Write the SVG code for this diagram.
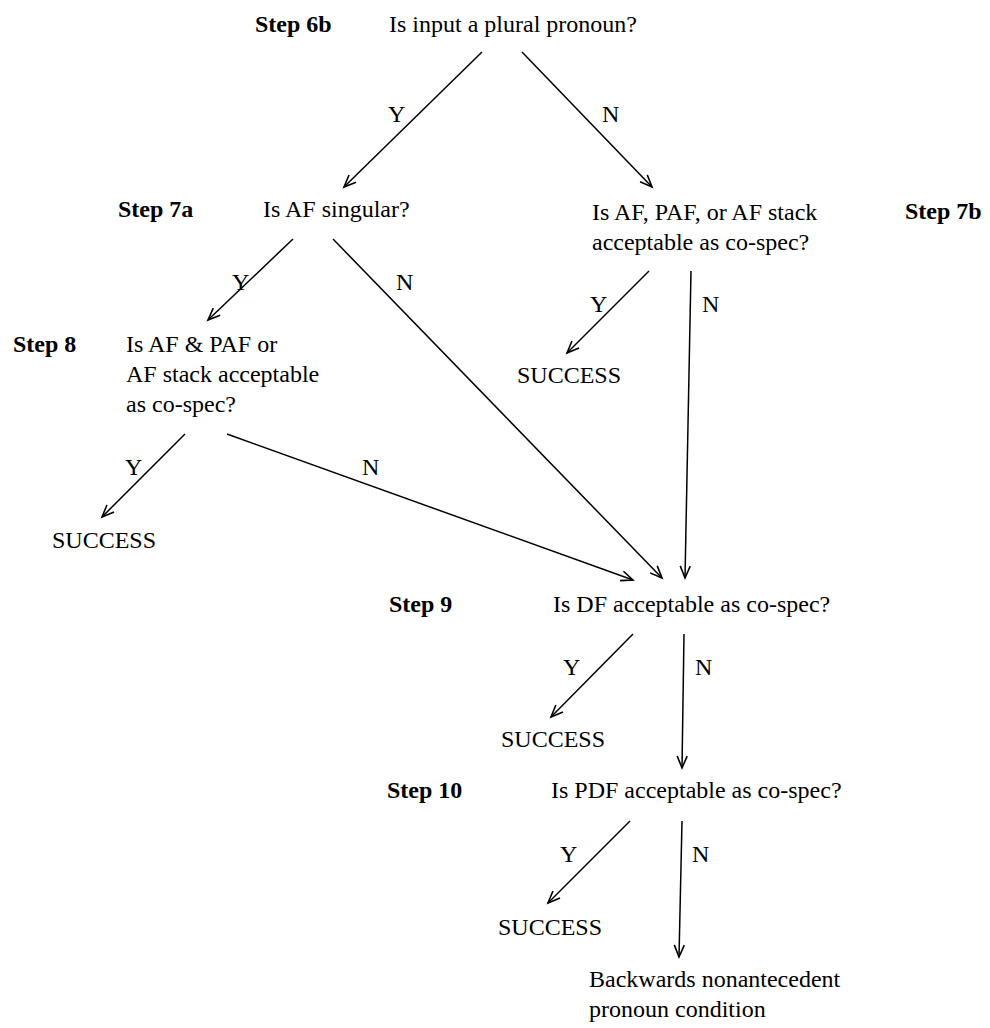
<svg xmlns="http://www.w3.org/2000/svg" width="990" height="1028" viewBox="0 0 990 1028">
<style>
  text { font-family: "Liberation Serif", "Times New Roman", serif; font-size: 24px; fill: #000; }
  .step { font-weight: bold; }
  .conn line { stroke: #000; stroke-width: 1.5; fill: none; marker-end: url(#arr); }
</style>
<defs>
  <marker id="arr" markerUnits="userSpaceOnUse" markerWidth="16" markerHeight="14" refX="13" refY="6" orient="auto">
    <path d="M1,1 L13,6 L1,11" fill="none" stroke="#000" stroke-width="1.6"/>
  </marker>
</defs>
<rect width="990" height="1028" fill="#fff"/>

<g id="step6b">
  <text class="step" x="255" y="32">Step 6b</text>
  <text x="389" y="32">Is input a plural pronoun?</text>
</g>
<g id="step7a">
  <text class="step" x="118" y="217">Step 7a</text>
  <text x="263" y="217">Is AF singular?</text>
</g>
<g id="step7b">
  <text class="step" x="905" y="219">Step 7b</text>
  <text x="592" y="220">Is AF, PAF, or AF stack</text>
  <text x="592" y="250">acceptable as co-spec?</text>
</g>
<g id="success7b"><text x="517" y="383">SUCCESS</text></g>
<g id="step8">
  <text class="step" x="13" y="352">Step 8</text>
  <text x="126" y="352">Is AF &amp; PAF or</text>
  <text x="126" y="382">AF stack acceptable</text>
  <text x="126" y="412">as co-spec?</text>
</g>
<g id="success8"><text x="52" y="548">SUCCESS</text></g>
<g id="step9">
  <text class="step" x="389" y="612">Step 9</text>
  <text x="553" y="612">Is DF acceptable as co-spec?</text>
</g>
<g id="success9"><text x="501" y="747">SUCCESS</text></g>
<g id="step10">
  <text class="step" x="387" y="798">Step 10</text>
  <text x="551" y="798">Is PDF acceptable as co-spec?</text>
</g>
<g id="success10"><text x="498" y="935">SUCCESS</text></g>
<g id="backwards">
  <text x="589" y="987">Backwards nonantecedent</text>
  <text x="589" y="1017">pronoun condition</text>
</g>

<g id="connectors" class="conn">
  <line x1="482" y1="52" x2="344" y2="187"/>
  <line x1="522" y1="52" x2="652" y2="187"/>
  <line x1="293" y1="239" x2="208" y2="320"/>
  <line x1="333" y1="239" x2="662" y2="578"/>
  <line x1="649" y1="271" x2="567" y2="353"/>
  <line x1="691" y1="271" x2="685" y2="578"/>
  <line x1="185" y1="434" x2="102" y2="517"/>
  <line x1="227" y1="434" x2="633" y2="580"/>
  <line x1="633" y1="634" x2="551" y2="717"/>
  <line x1="684" y1="634" x2="682" y2="768"/>
  <line x1="630" y1="821" x2="548" y2="903"/>
  <line x1="682" y1="821" x2="679" y2="957"/>
</g>
<g id="labels">
  <text x="388" y="122">Y</text>
  <text x="602" y="122">N</text>
  <text x="232" y="290">Y</text>
  <text x="396" y="290">N</text>
  <text x="590" y="312">Y</text>
  <text x="702" y="312">N</text>
  <text x="125" y="475">Y</text>
  <text x="362" y="475">N</text>
  <text x="563" y="675">Y</text>
  <text x="695" y="675">N</text>
  <text x="560" y="862">Y</text>
  <text x="692" y="862">N</text>
</g>
</svg>
